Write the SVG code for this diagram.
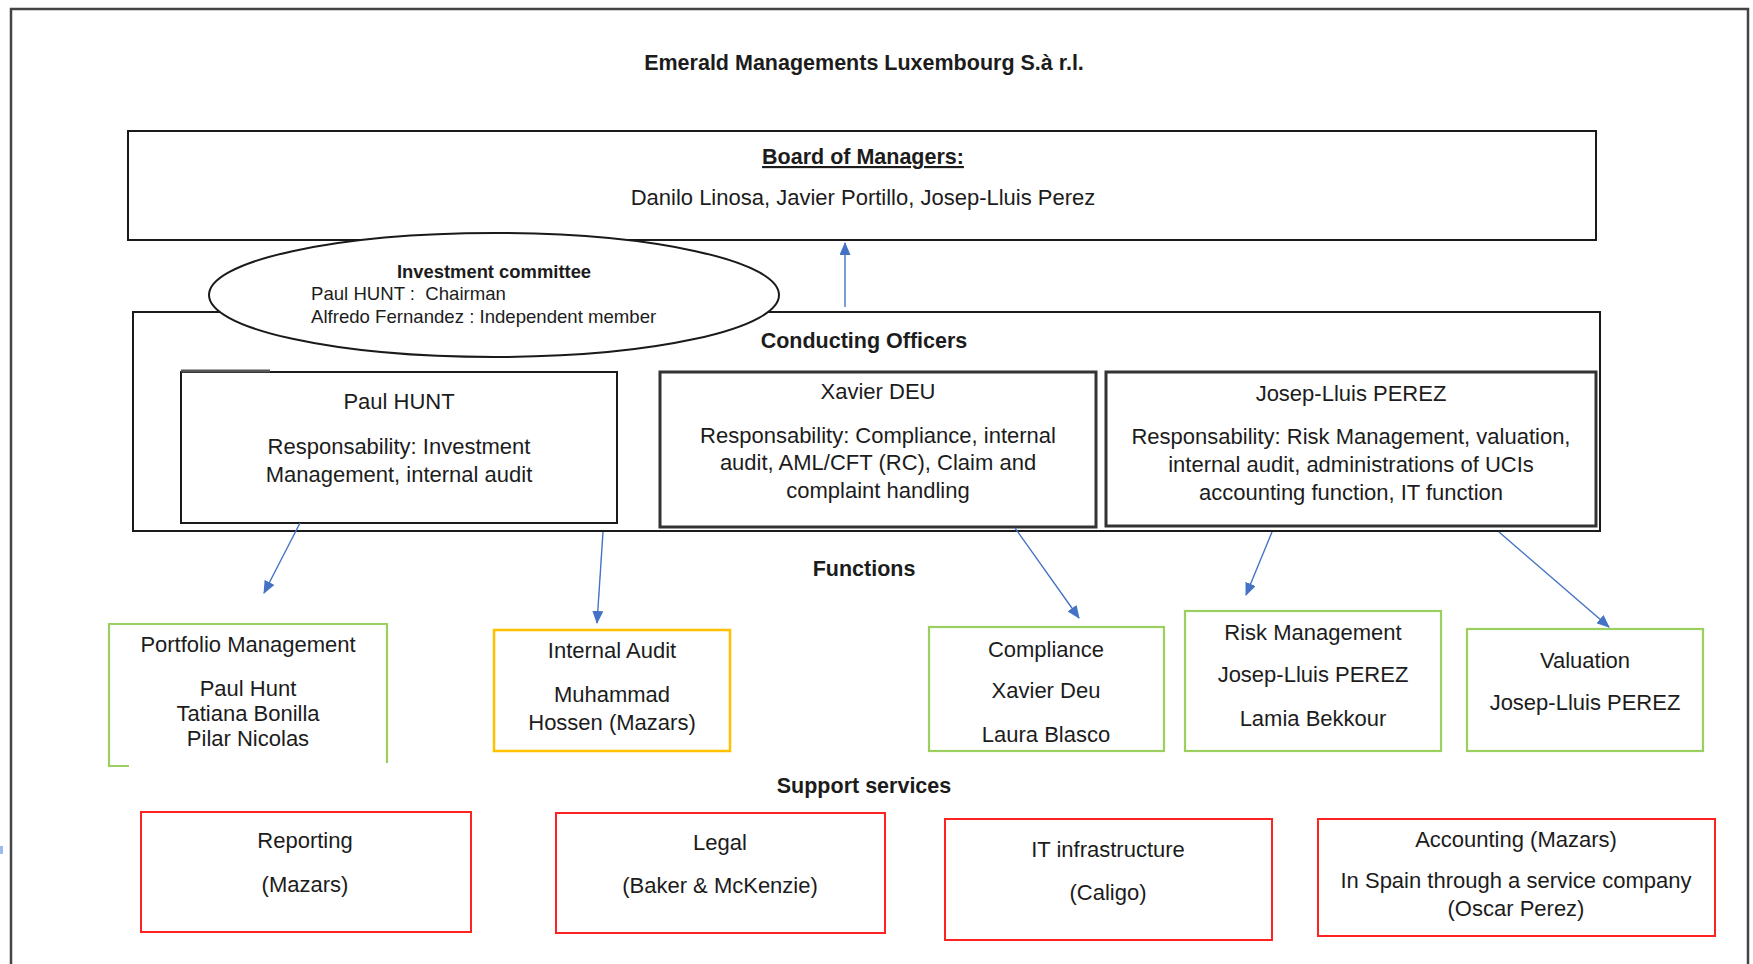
<svg xmlns="http://www.w3.org/2000/svg" width="1753" height="964" viewBox="0 0 1753 964">
<defs>
<marker id="ah" markerUnits="userSpaceOnUse" markerWidth="13" markerHeight="11" refX="12" refY="5.5" orient="auto">
<path d="M0,0 L13,5.5 L0,11 z" fill="#4472C4"/>
</marker>
<style>
text{font-family:"Liberation Sans",Arial,sans-serif;fill:#1c1c1c;text-anchor:middle}
.b{font-weight:bold;font-size:21.5px}
.t{font-size:22px}
.s{font-size:18.6px;white-space:pre}
.sb{font-size:18.4px;font-weight:bold}
.l{text-anchor:start}
.blk{fill:#fff;stroke:#1a1a1a;stroke-width:2}
.dbl{fill:#fff;stroke:#333;stroke-width:3}
.grn{fill:#fff;stroke:#9BD060;stroke-width:2.2}
.yel{fill:#fff;stroke:#FFC000;stroke-width:2.5}
.red{fill:#fff;stroke:#F22;stroke-width:2}
.con{stroke:#4472C4;stroke-width:1.4;fill:none;marker-end:url(#ah)}
</style>
</defs>
<rect width="1753" height="964" fill="#fff"/>
<g id="frame">
<path d="M11,970 L11,9 L1748,9 L1748,970" fill="none" stroke="#444" stroke-width="2.5"/>
<rect x="0" y="846" width="3" height="8" fill="#9DB9F0"/>
</g>
<g id="title"><text class="b" x="864" y="70">Emerald Managements Luxembourg S.à r.l.</text></g>
<g id="board">
<rect class="blk" x="128" y="131" width="1468" height="109"/>
<text class="b" x="863" y="164" text-decoration="underline">Board of Managers:</text>
<text class="t" x="863" y="205">Danilo Linosa, Javier Portillo, Josep-Lluis Perez</text>
</g>
<g id="conducting">
<rect class="blk" x="133" y="312" width="1467" height="219" stroke-width="2.5"/>
<text class="b" x="864" y="348">Conducting Officers</text>
</g>
<g id="committee">
<ellipse cx="494" cy="295" rx="285" ry="62" fill="#fff" stroke="#1a1a1a" stroke-width="2"/>
<text class="sb" x="494" y="278">Investment committee</text>
<text class="s l" x="311" y="300" xml:space="preserve">Paul HUNT :  Chairman</text>
<text class="s l" x="311" y="323">Alfredo Fernandez : Independent member</text>
</g>
<g id="hunt">
<rect class="blk" x="181" y="372" width="436" height="151"/>
<line x1="181" y1="371" x2="270" y2="371" stroke="#555" stroke-width="3"/>
<text class="t" x="399" y="409">Paul HUNT</text>
<text class="t" x="399" y="454">Responsability: Investment</text>
<text class="t" x="399" y="482">Management, internal audit</text>
</g>
<g id="deu">
<rect class="dbl" x="660" y="372" width="436" height="155"/>
<text class="t" x="878" y="399">Xavier DEU</text>
<text class="t" x="878" y="443">Responsability: Compliance, internal</text>
<text class="t" x="878" y="470">audit, AML/CFT (RC), Claim and</text>
<text class="t" x="878" y="498">complaint handling</text>
</g>
<g id="perez">
<rect class="dbl" x="1106" y="372" width="490" height="154"/>
<text class="t" x="1351" y="401">Josep-Lluis PEREZ</text>
<text class="t" x="1351" y="444">Responsability: Risk Management, valuation,</text>
<text class="t" x="1351" y="472">internal audit, administrations of UCIs</text>
<text class="t" x="1351" y="500">accounting function, IT function</text>
</g>
<g id="functions-label"><text class="b" x="864" y="576">Functions</text></g>
<g id="portfolio">
<path d="M129,766 L109,766 L109,624 L387,624 L387,763" class="grn" fill="none"/>
<text class="t" x="248" y="652">Portfolio Management</text>
<text class="t" x="248" y="696">Paul Hunt</text>
<text class="t" x="248" y="721">Tatiana Bonilla</text>
<text class="t" x="248" y="746">Pilar Nicolas</text>
</g>
<g id="audit">
<rect class="yel" x="494" y="630" width="236" height="121"/>
<text class="t" x="612" y="658">Internal Audit</text>
<text class="t" x="612" y="702">Muhammad</text>
<text class="t" x="612" y="730">Hossen (Mazars)</text>
</g>
<g id="compliance">
<rect class="grn" x="929" y="627" width="235" height="124"/>
<text class="t" x="1046" y="657">Compliance</text>
<text class="t" x="1046" y="698">Xavier Deu</text>
<text class="t" x="1046" y="742">Laura Blasco</text>
</g>
<g id="risk">
<rect class="grn" x="1185" y="611" width="256" height="140"/>
<text class="t" x="1313" y="640">Risk Management</text>
<text class="t" x="1313" y="682">Josep-Lluis PEREZ</text>
<text class="t" x="1313" y="726">Lamia Bekkour</text>
</g>
<g id="valuation">
<rect class="grn" x="1467" y="629" width="236" height="122"/>
<text class="t" x="1585" y="668">Valuation</text>
<text class="t" x="1585" y="710">Josep-Lluis PEREZ</text>
</g>
<g id="support-label"><text class="b" x="864" y="793">Support services</text></g>
<g id="reporting">
<rect class="red" x="141" y="812" width="330" height="120"/>
<text class="t" x="305" y="848">Reporting</text>
<text class="t" x="305" y="892">(Mazars)</text>
</g>
<g id="legal">
<rect class="red" x="556" y="813" width="329" height="120"/>
<text class="t" x="720" y="850">Legal</text>
<text class="t" x="720" y="893">(Baker &amp; McKenzie)</text>
</g>
<g id="it">
<rect class="red" x="945" y="819" width="327" height="121"/>
<text class="t" x="1108" y="857">IT infrastructure</text>
<text class="t" x="1108" y="900">(Caligo)</text>
</g>
<g id="accounting">
<rect class="red" x="1318" y="819" width="397" height="117"/>
<text class="t" x="1516" y="847">Accounting (Mazars)</text>
<text class="t" x="1516" y="888">In Spain through a service company</text>
<text class="t" x="1516" y="916">(Oscar Perez)</text>
</g>
<g id="connectors">
<line class="con" x1="845" y1="307" x2="845" y2="243"/>
<line class="con" x1="300" y1="523" x2="264" y2="593"/>
<line class="con" x1="603" y1="532" x2="597" y2="623"/>
<line class="con" x1="1015" y1="528" x2="1079" y2="618"/>
<line class="con" x1="1272" y1="532" x2="1246" y2="595"/>
<line class="con" x1="1499" y1="532" x2="1609" y2="627"/>
</g>
</svg>
